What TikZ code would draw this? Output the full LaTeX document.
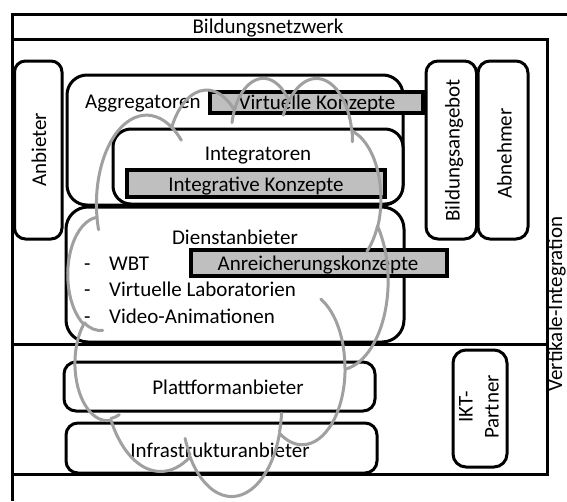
\documentclass[tikz,border=0pt]{standalone}
\usepackage{fontspec}
\setmainfont{Carlito}
\definecolor{conceptgray}{RGB}{191,191,191}
\definecolor{cloudgray}{RGB}{160,160,160}
% PowerPoint cloud arcs: id, rx, ry, visual start angle, sweep
\newcommand\cldset[5]{%
  \pgfmathsetmacro\cldta{atan2((#2)*sin(#4),(#3)*cos(#4))}%
  \pgfmathsetmacro\cldtb{atan2((#2)*sin((#4)+(#5)),(#3)*cos((#4)+(#5)))}%
  \pgfmathsetmacro\cldtd{mod(\cldtb-\cldta+720,360)}%
  \expandafter\xdef\csname cldarc#1\endcsname{arc[start angle=\cldta, delta angle=\cldtd, x radius=#2, y radius=#3]}%
}
\cldset{A}{6.753}{9.190}{-190.487}{123.781}
\cldset{B}{5.333}{7.267}{-144.102}{89.945}
\cldset{C}{4.365}{5.945}{-145.808}{99.723}
\cldset{D}{4.857}{6.595}{-130.986}{117.242}
\cldset{E}{5.333}{7.273}{-78.709}{109.027}
\cldset{F}{6.775}{9.220}{-46.267}{130.269}
\cldset{G}{5.785}{7.867}{0.625}{114.033}
\cldset{H}{6.752}{9.215}{22.452}{115.173}
\cldset{I}{7.720}{10.543}{66.243}{75.711}
\cldset{J}{4.360}{5.918}{-274.942}{146.736}
\cldset{K}{4.345}{5.945}{-246.829}{152.519}
\cldset{L}{4.345}{5.945}{86.742}{26.430}
\cldset{M}{4.360}{5.918}{73.610}{11.447}
\cldset{N}{6.752}{9.215}{137.624}{14.081}
\cldset{O}{6.752}{9.215}{6.453}{15.998}
\cldset{P}{5.785}{7.867}{-70.292}{70.917}
\cldset{Q}{5.333}{7.273}{30.318}{27.752}
\cldset{R}{4.857}{6.595}{-13.744}{14.859}
\cldset{S}{4.857}{6.595}{-149.181}{18.195}
\cldset{T}{4.365}{5.945}{-163.494}{19.504}
\cldset{U}{6.753}{9.190}{-66.707}{12.319}
\cldset{V}{6.753}{9.190}{157.654}{11.858}
\tikzset{
  frame/.style={draw=black, line width=3pt},
  rbox/.style={draw=black, fill=white, line width=3pt},
  cbox/.style={draw=black, fill=conceptgray, line width=4pt},
  lbl/.style={font=\fontsize{21}{26}\selectfont, inner sep=0pt},
  cloudline/.style={draw=cloudgray, line width=3pt, line cap=round, line join=round},
}
\begin{document}
\begin{tikzpicture}[x=1pt, y=-1pt]
\useasboundingbox (0,0) rectangle (567,501);
% frames
\draw[frame] (567,14) -- (12,14) -- (12,501);
\draw[frame] (12,39) rectangle (547,474);
\draw[frame] (12,344) -- (547,344);
% rounded boxes
\draw[rbox, rounded corners=20pt] (67,75) rectangle (403,205);
\draw[rbox, rounded corners=18pt] (113,129) rectangle (403,204);
\draw[rbox, rounded corners=22pt] (66,207) rectangle (404,342);
\draw[rbox, rounded corners=12pt] (64,362) rectangle (375,411);
\draw[rbox, rounded corners=12pt] (66,423) rectangle (377,473);
\draw[rbox, rounded corners=11pt] (14.5,61) rectangle (62,239);
\draw[rbox, rounded corners=12pt] (426,61) rectangle (476.5,239);
\draw[rbox, rounded corners=12pt] (478,61) rectangle (528,239);
\draw[rbox, rounded corners=13pt] (453,350) rectangle (507,467);
% concept boxes
\draw[cbox] (210,92) rectangle (423,113);
\draw[cbox] (127,170) rectangle (385,197);
\draw[cbox] (191,250) rectangle (447,276);
% labels
\node[lbl, anchor=base] (bn) at (268,33) {Bildungsnetzwerk};
\node[lbl, anchor=base west] (agg) at (85,108) {Aggregatoren};
\node[lbl, anchor=base] (vk) at (317,109) {Virtuelle Konzepte};
\node[lbl, anchor=base] (intg) at (258,160) {Integratoren};
\node[lbl, anchor=base] (ik) at (256,191) {Integrative Konzepte};
\node[lbl, anchor=base] (dien) at (235,244) {Dienstanbieter};
\node[lbl, anchor=base] (ak) at (318,270) {Anreicherungskonzepte};
\node[lbl, anchor=base west] (li1) at (84,270) {\makebox[25pt][l]{-}WBT};
\node[lbl, anchor=base west] (li2) at (84,296.5) {\makebox[25pt][l]{-}Virtuelle Laboratorien};
\node[lbl, anchor=base west] (li3) at (84,323) {\makebox[25pt][l]{-}Video-Animationen};
\node[lbl, anchor=base] (pl) at (228,394) {Plattformanbieter};
\node[lbl, anchor=base] (inf) at (220,457) {Infrastrukturanbieter};
\node[lbl, rotate=90, anchor=base] (anb) at (46,150) {Anbieter};
\node[lbl, rotate=90, anchor=base] (bild) at (459.5,150.5) {Bildungsangebot};
\node[lbl, rotate=90, anchor=base] (abn) at (511.5,153.5) {Abnehmer};
\node[lbl, rotate=90, align=center] (ikt) at (479,407) {IKT-\\Partner};
\node[lbl, rotate=90, anchor=base] (vi) at (562,304) {Vertikale-Integration};
% cloud
\begin{scope}[shift={(68,77)}, x=7.4074pt, y=-9.6759pt]
\draw[cloudline] (3.9,14.37) \cldarcA \cldarcB \cldarcC \cldarcD \cldarcE \cldarcF \cldarcG \cldarcH \cldarcI \cldarcJ \cldarcK -- cycle;
\draw[cloudline] (4.693,26.177) \cldarcL;
\draw[cloudline] (6.928,34.899) \cldarcM;
\draw[cloudline] (16.478,39.090) \cldarcN;
\draw[cloudline] (28.827,34.751) \cldarcO;
\draw[cloudline] (34.129,22.954) \cldarcP;
\draw[cloudline] (41.798,15.354) \cldarcQ;
\draw[cloudline] (38.324,5.426) \cldarcR;
\draw[cloudline] (29.078,3.952) \cldarcS;
\draw[cloudline] (22.141,4.720) \cldarcT;
\draw[cloudline] (14.000,5.192) \cldarcU;
\draw[cloudline] (4.127,15.789) \cldarcV;
\end{scope}
\end{tikzpicture}
\end{document}
